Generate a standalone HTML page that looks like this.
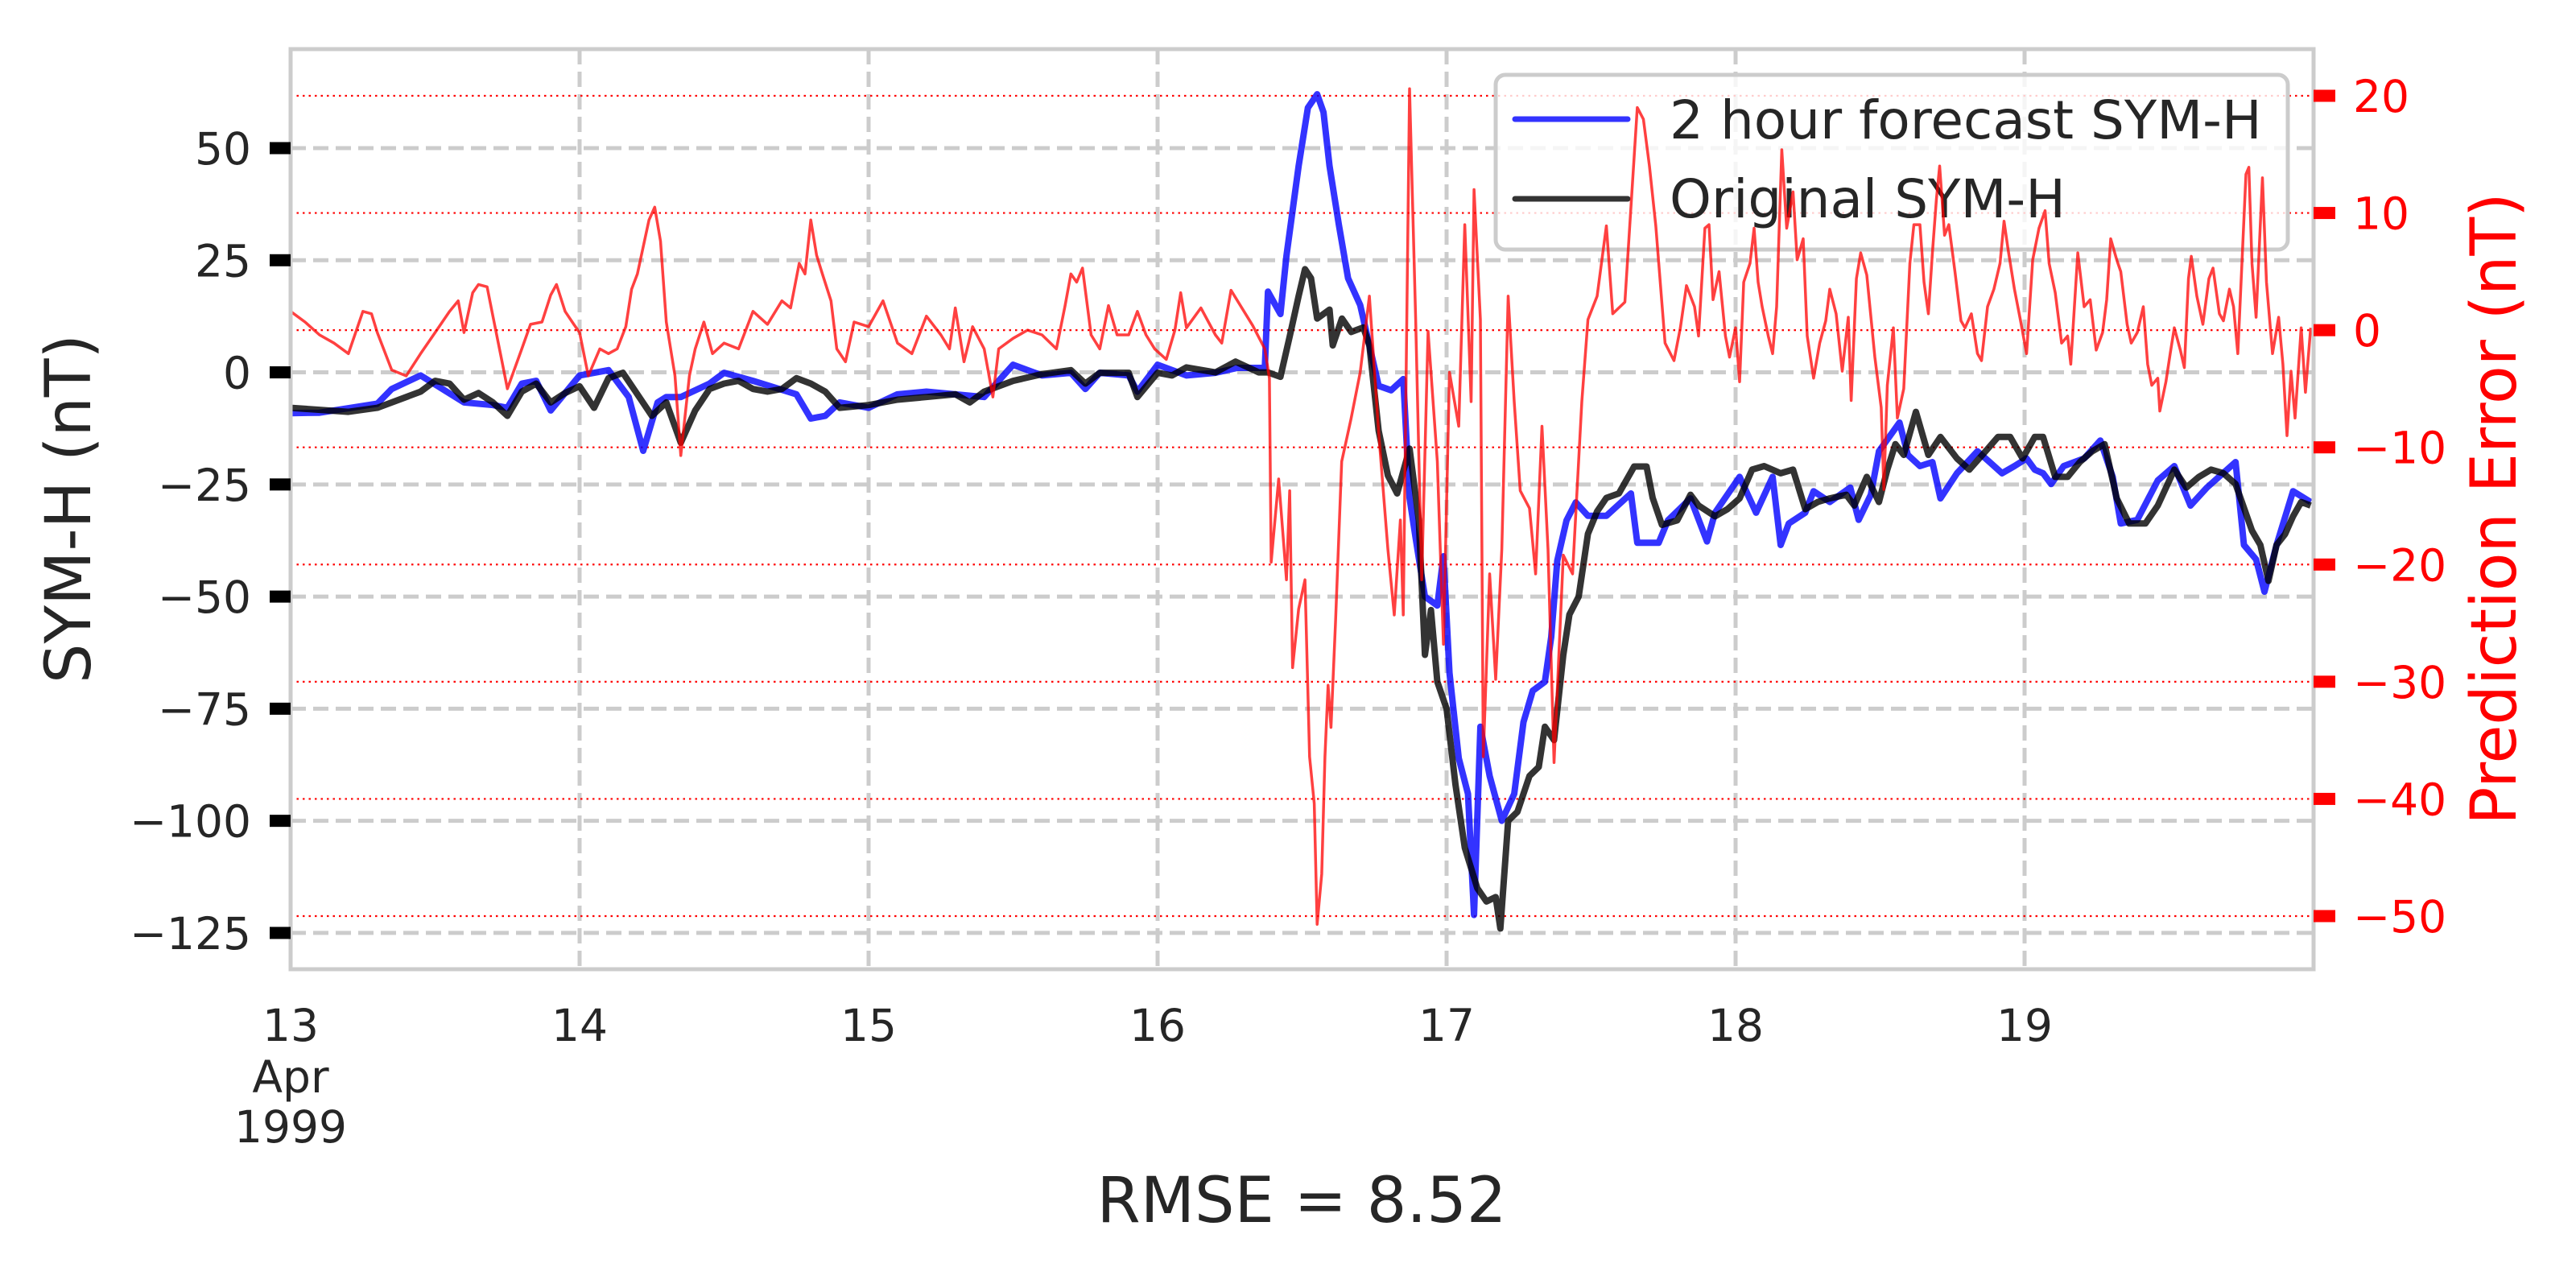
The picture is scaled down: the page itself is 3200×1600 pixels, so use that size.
<!DOCTYPE html>
<html><head><meta charset="utf-8">
<style>
html,body{margin:0;padding:0;background:#fff;}
svg{display:block;font-family:"DejaVu Sans","Liberation Sans",sans-serif;}
</style></head>
<body>
<svg id="chart" width="3200" height="1600" viewBox="0 0 3200 1600" xmlns="http://www.w3.org/2000/svg">
<rect x="0" y="0" width="3200" height="1600" fill="#fff"/>
<g id="grid"></g>
<g id="series"></g>
<g id="legend">
  <rect x="1858" y="93" width="984" height="217" rx="12" fill="rgba(255,255,255,0.8)" stroke="#cccccc" stroke-width="5"/>
  <line x1="1882" y1="148" x2="2022" y2="148" stroke="rgba(0,0,255,0.8)" stroke-width="7" stroke-linecap="round"/>
  <text x="2074" y="172" font-size="66" fill="#262626">2 hour forecast SYM-H</text>
  <line x1="1882" y1="247" x2="2022" y2="247" stroke="rgba(0,0,0,0.8)" stroke-width="7" stroke-linecap="round"/>
  <text x="2074" y="270" font-size="66" fill="#262626">Original SYM-H</text>
</g>
<g id="errseries"></g>
<g id="axes"></g>
<text x="0" y="0" font-size="78" fill="#262626" text-anchor="middle" transform="translate(112,632) rotate(-90)">SYM-H (nT)</text>
<text x="0" y="0" font-size="78" fill="#ff0000" text-anchor="middle" transform="translate(3125,632) rotate(-90)">Prediction Error (nT)</text>
<text x="1617" y="1518" font-size="78" fill="#262626" text-anchor="middle">RMSE = 8.52</text>
</svg>
<script>
// ---- data (time in days since 13 Apr 1999 00:00) ----
const origT = [0,0.2,0.3,0.45,0.5,0.55,0.6,0.65,0.7,0.75,0.8,0.85,0.9,0.95,1.0,1.05,1.1,1.15,1.2,1.25,1.3,1.35,1.4,1.45,1.5,1.55,1.6,1.65,1.7,1.75,1.8,1.85,1.9,2.0,2.1,2.2,2.3,2.35,2.4,2.5,2.6,2.7,2.75,2.8,2.9,2.93,3.0,3.05,3.1,3.2,3.27,3.35,3.382,3.425,3.457,3.488,3.51,3.531,3.552,3.595,3.606,3.638,3.67,3.712,3.733,3.765,3.797,3.829,3.872,3.904,3.925,3.946,3.968,4.0,4.031,4.063,4.106,4.138,4.17,4.186,4.213,4.245,4.287,4.319,4.34,4.372,4.404,4.425,4.457,4.489,4.521,4.553,4.596,4.649,4.692,4.713,4.745,4.798,4.844,4.872,4.929,4.972,5.014,5.057,5.099,5.156,5.199,5.241,5.284,5.326,5.383,5.411,5.454,5.496,5.525,5.553,5.582,5.624,5.667,5.709,5.766,5.809,5.865,5.908,5.95,5.993,6.035,6.064,6.106,6.149,6.191,6.234,6.277,6.319,6.362,6.418,6.461,6.518,6.56,6.603,6.645,6.688,6.73,6.787,6.816,6.844,6.872,6.901,6.929,6.957,6.99];
const origV = [-7.9,-8.8,-7.9,-4.3,-1.9,-2.5,-6.1,-4.6,-6.7,-9.7,-4.3,-2.5,-6.7,-4.6,-3.1,-7.9,-1.3,-0.1,-4.9,-9.7,-6.7,-15.7,-8.5,-3.7,-2.5,-1.9,-3.7,-4.3,-3.7,-1.3,-2.5,-4.3,-7.9,-7.3,-6.1,-5.5,-4.9,-6.7,-4.3,-1.9,-0.4,0.5,-2.5,-0.1,-0.1,-5.5,-0.1,-0.7,1.1,0,2.4,0,0,-1,8,17,23,21,12,14,6,12,9,10,6,-13,-23,-27,-17,-33,-63,-53,-69,-75,-92,-106,-115,-118,-117,-124,-100,-98,-90,-88,-79,-82,-63,-54,-50,-36,-31,-28,-27,-21,-21,-28,-34,-33,-27.3,-29.7,-32.1,-30.5,-28.1,-21.7,-20.9,-22.5,-21.7,-30.5,-28.9,-28.1,-27.3,-29.7,-23.3,-28.9,-21.7,-16,-18.4,-8.8,-18.4,-14.4,-19.2,-21.7,-17.6,-14.4,-14.4,-19.2,-14.4,-14.4,-23.3,-23.3,-20,-17.6,-16,-28.1,-33.7,-33.7,-29.7,-21.7,-25.7,-23.3,-21.7,-22.5,-24.9,-35.3,-38.5,-46.5,-38.5,-36.1,-32.1,-28.9,-29.7];
const fcT = [0,0.1,0.2,0.3,0.35,0.45,0.6,0.7,0.75,0.8,0.85,0.9,1.0,1.1,1.17,1.22,1.27,1.3,1.35,1.45,1.5,1.6,1.75,1.8,1.85,1.9,2.0,2.1,2.2,2.4,2.5,2.6,2.7,2.75,2.8,2.9,2.93,3.0,3.1,3.2,3.276,3.371,3.382,3.425,3.446,3.488,3.52,3.552,3.574,3.595,3.627,3.659,3.701,3.733,3.765,3.808,3.85,3.872,3.893,3.925,3.968,3.989,4.01,4.042,4.074,4.095,4.117,4.149,4.191,4.234,4.266,4.298,4.34,4.362,4.383,4.415,4.447,4.489,4.553,4.638,4.66,4.734,4.766,4.844,4.901,4.929,5.014,5.071,5.128,5.156,5.184,5.241,5.27,5.326,5.397,5.426,5.468,5.496,5.567,5.596,5.638,5.681,5.709,5.766,5.837,5.879,5.922,5.965,6.007,6.035,6.064,6.092,6.135,6.206,6.262,6.305,6.333,6.39,6.461,6.518,6.574,6.631,6.73,6.759,6.801,6.83,6.872,6.929,6.99];
const fcV = [-9.1,-9,-8,-7,-3.7,-0.7,-6.7,-7.3,-7.9,-2.5,-1.9,-8.5,-0.7,0.5,-5.5,-17.5,-6.7,-5.5,-5.5,-2.5,-0.1,-1.9,-4.9,-10.3,-9.7,-6.7,-7.9,-4.9,-4.3,-5.5,1.7,-0.7,-0.1,-3.7,-0.1,-0.7,-4.3,1.7,-0.7,-0.1,1,1,18,13,26,46,59,62,58,46,33,21,15,6,-3,-4,-1.5,-28,-37,-50,-52,-41,-67,-86,-94,-121,-79,-90,-100,-94,-78,-71,-69,-59,-42,-33,-29,-32,-32,-27,-38,-38,-33,-28.1,-37.7,-31.3,-23.3,-31.3,-23.3,-38.5,-33.7,-31.3,-26.5,-28.9,-25.7,-32.9,-27.3,-17.6,-11.2,-18.4,-20.9,-20,-28.1,-22.5,-17.6,-20,-22.5,-20.9,-19.2,-21.7,-22.5,-24.9,-20.9,-19.2,-15.2,-23.3,-33.7,-32.9,-24.1,-20.9,-29.7,-25.7,-20,-38.5,-41.7,-48.9,-38.5,-26.5,-28.9];
const errT = [0,0.05,0.1,0.15,0.2,0.25,0.28,0.3,0.35,0.4,0.45,0.5,0.55,0.58,0.6,0.63,0.65,0.68,0.7,0.73,0.75,0.8,0.83,0.87,0.9,0.92,0.95,0.98,1.0,1.03,1.07,1.1,1.13,1.16,1.18,1.2,1.22,1.24,1.26,1.28,1.3,1.33,1.35,1.38,1.4,1.43,1.46,1.5,1.55,1.6,1.65,1.7,1.73,1.76,1.78,1.8,1.82,1.84,1.87,1.89,1.92,1.95,2.0,2.05,2.1,2.15,2.2,2.25,2.28,2.3,2.33,2.36,2.4,2.43,2.45,2.5,2.55,2.6,2.65,2.68,2.7,2.72,2.74,2.77,2.8,2.83,2.86,2.9,2.93,2.96,2.99,3.03,3.06,3.08,3.1,3.15,3.2,3.222,3.254,3.329,3.371,3.387,3.393,3.419,3.446,3.457,3.467,3.488,3.51,3.526,3.542,3.552,3.568,3.579,3.59,3.6,3.616,3.637,3.669,3.701,3.733,3.765,3.797,3.819,3.84,3.85,3.872,3.893,3.914,3.936,3.968,3.989,4.01,4.042,4.063,4.085,4.095,4.117,4.127,4.149,4.17,4.191,4.213,4.234,4.255,4.287,4.308,4.33,4.351,4.372,4.404,4.436,4.468,4.489,4.521,4.553,4.575,4.617,4.66,4.681,4.702,4.724,4.756,4.787,4.809,4.83,4.858,4.872,4.894,4.908,4.922,4.943,4.965,4.979,5.0,5.014,5.028,5.05,5.064,5.078,5.092,5.113,5.128,5.142,5.153,5.16,5.177,5.199,5.213,5.234,5.248,5.27,5.291,5.312,5.326,5.348,5.369,5.39,5.4,5.418,5.433,5.454,5.482,5.504,5.513,5.525,5.546,5.56,5.582,5.603,5.617,5.638,5.652,5.667,5.681,5.695,5.706,5.723,5.738,5.759,5.78,5.794,5.816,5.837,5.851,5.872,5.894,5.915,5.929,5.943,5.965,5.986,6.007,6.028,6.05,6.071,6.085,6.106,6.128,6.149,6.16,6.184,6.206,6.227,6.248,6.27,6.284,6.298,6.319,6.333,6.355,6.369,6.39,6.411,6.426,6.44,6.461,6.468,6.489,6.504,6.518,6.539,6.553,6.567,6.577,6.596,6.617,6.638,6.652,6.674,6.688,6.709,6.723,6.738,6.752,6.766,6.776,6.787,6.801,6.823,6.837,6.858,6.879,6.894,6.908,6.922,6.936,6.957,6.972,6.99];
const errV = [1.6,0.7,-0.4,-1.1,-2.0,1.6,1.4,-0.2,-3.4,-3.9,-2.0,-0.2,1.6,2.5,-0.2,3.2,3.9,3.7,1.2,-2.5,-5.0,-1.6,0.5,0.7,3.0,3.9,1.6,0.5,-0.2,-3.9,-1.6,-2.0,-1.6,0.3,3.5,4.8,7.1,9.4,10.5,7.6,0.7,-3.9,-10.7,-3.9,-1.6,0.7,-2.0,-1.1,-1.6,1.6,0.5,2.5,1.9,5.7,4.8,9.4,6.4,4.8,2.5,-1.6,-2.7,0.7,0.3,2.5,-1.1,-2.0,1.2,-0.4,-1.6,1.9,-2.7,0.3,-1.6,-5.7,-1.6,-0.7,0,-0.4,-1.6,2.1,4.8,4.1,5.3,-0.4,-1.6,2.1,-0.4,-0.4,1.6,-0.4,-1.6,-2.5,0,3.2,0.2,1.9,-0.4,-1.1,3.4,0.4,-1.6,-4.1,-19.8,-12.7,-21.3,-13.7,-28.8,-23.8,-21.3,-36.4,-40.4,-50.7,-46.4,-36.4,-30.3,-33.9,-24.8,-11.2,-7.6,-3.6,2.9,-8.7,-18.7,-24.3,-16.2,-24.3,20.6,0.9,-21.3,-0.1,-11.2,-26.8,-3.6,-8.2,9.0,-6.1,12.0,0.9,-36.4,-20.8,-29.8,-18.7,2.9,-6.1,-13.7,-15.2,-20.8,-8.2,-18.7,-36.9,-19.2,-20.8,-6.1,0.9,2.9,8.9,1.4,2.4,19.0,18.0,14.0,8.9,-1.1,-2.6,0.2,3.8,2.0,-0.5,8.7,9.0,2.6,5.0,-0.5,-2.3,0.2,-4.4,4.1,5.7,8.7,4.1,2.0,-0.5,-2.0,2.0,10.2,15.4,8.7,11.8,6.0,7.8,-0.5,-4.1,-1.1,0.8,3.5,1.4,-3.5,1.1,-6.0,4.4,6.6,4.7,-2.3,-6.6,-13.6,-4.7,0.2,-7.5,-5.0,5.7,9.0,9.0,4.1,1.4,6.6,11.2,14.0,8.1,9.0,5.0,0.8,0.2,1.4,-2.0,-2.6,2.0,3.5,5.7,9.3,6.9,3.5,0.8,-2.0,6.0,8.7,10.2,5.7,3.2,-1.1,-0.5,-2.9,6.6,2.0,2.6,-1.7,-0.2,2.6,7.8,6.0,5.0,0.5,-1.1,-0.2,2.0,-2.9,-4.7,-4.1,-6.9,-4.4,-2.0,0.2,-1.7,-3.2,4.4,6.3,2.9,0.5,4.4,5.3,1.4,0.8,3.5,2.0,-2.0,5.7,13.3,13.9,5.7,1.1,13.0,4.1,-2.0,1.1,-2.9,-9.0,-3.5,-7.5,0.2,-5.3,0.2];
const leftTicks = [50,25,0,-25,-50,-75,-100,-125];
const rightTicks = [20,10,0,-10,-20,-30,-40,-50];
const dayTicks = [0,1,2,3,4,5,6];
const dayLabels = ["13","14","15","16","17","18","19"];

// ---- axes functions ----
const PL=361, PR=2874, PT=61, PB=1204;
const X = t => PL + t*(PR-PL)/7;
const Y = v => 184 + (50-v)*5.571;
const Y2 = e => 119 + (20-e)*14.557;
const NS="http://www.w3.org/2000/svg";
function mk(tag, attrs, parent){const el=document.createElementNS(NS,tag);for(const k in attrs)el.setAttribute(k,attrs[k]);parent.appendChild(el);return el;}
const grid=document.getElementById('grid'), series=document.getElementById('series'), errs=document.getElementById('errseries'), axes=document.getElementById('axes');

dayTicks.forEach((d,i)=>{
  if(d===0) return;
  const l=mk('line',{x1:X(d),x2:X(d),y1:PT,y2:PB,stroke:'#cccccc','stroke-width':5,'stroke-dasharray':'19 9'},grid);
  
  
});
leftTicks.forEach(v=>{
  const l=mk('line',{x1:PL,x2:PR,y1:Y(v),y2:Y(v),stroke:'#cccccc','stroke-width':5,'stroke-dasharray':'19 9'},grid);
  
  
});
rightTicks.forEach(e=>{
  const l=mk('line',{x1:PL,x2:PR,y1:Y2(e),y2:Y2(e),stroke:'#ff0000','stroke-width':2.2,'stroke-dasharray':'2.5 5'},grid);
  
  
});

function path(ts, vs, yf){return ts.map((t,i)=>(i?'L':'M')+X(t).toFixed(1)+' '+yf(vs[i]).toFixed(1)).join(' ');}
const pf=mk('path',{d:path(fcT,fcV,Y),fill:'none',stroke:'rgba(0,0,255,0.8)','stroke-width':8,'stroke-linejoin':'round'},series);


const po=mk('path',{d:path(origT,origV,Y),fill:'none',stroke:'rgba(0,0,0,0.8)','stroke-width':8,'stroke-linejoin':'round'},series);


const pe=mk('path',{d:path(errT,errV,Y2),fill:'none',stroke:'rgba(255,0,0,0.75)','stroke-width':3.5,'stroke-linejoin':'round'},errs);



// spines
const sp=mk('rect',{x:PL,y:PT,width:PR-PL,height:PB-PT,fill:'none',stroke:'#cccccc','stroke-width':5},axes);



leftTicks.forEach(v=>{
  const r=mk('rect',{x:PL-26,y:Y(v)-7.5,width:26,height:15,fill:'#000'},axes);
  
  
  const t=mk('text',{x:312,y:Y(v)+20,'font-size':55,fill:'#262626','text-anchor':'end'},axes);
  t.textContent=(v<0?'\u2212'+(-v):String(v));
  
  
});
rightTicks.forEach(e=>{
  const r=mk('rect',{x:PR,y:Y2(e)-7.5,width:27,height:15,fill:'#ff0000'},axes);
  
  
  const t=mk('text',{x:2923,y:Y2(e)+20,'font-size':55,fill:'#ff0000'},axes);
  t.textContent=(e<0?'\u2212'+(-e):String(e));
  
  
});
dayTicks.forEach((d,i)=>{
  const t=mk('text',{x:X(d),y:1293,'font-size':55,fill:'#262626','text-anchor':'middle'},axes);
  t.textContent=dayLabels[i];
  
  
});
const m=mk('text',{x:X(0),y:1357,'font-size':55,fill:'#262626','text-anchor':'middle'},axes);
m.textContent='Apr';


const yr=mk('text',{x:X(0),y:1419,'font-size':55,fill:'#262626','text-anchor':'middle'},axes);
yr.textContent='1999';


</script>
</body></html>
